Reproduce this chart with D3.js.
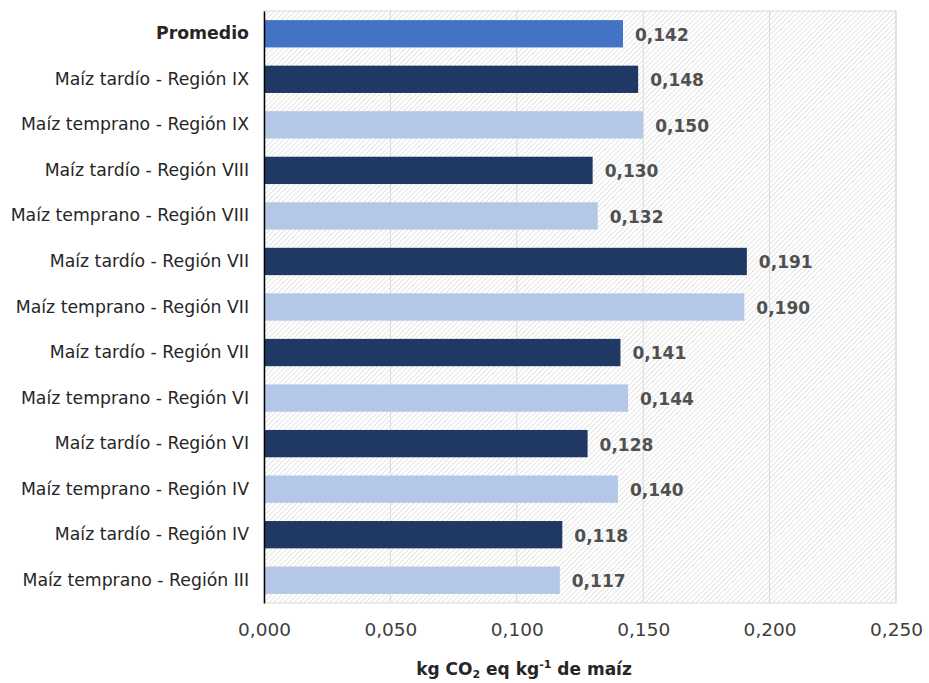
<!DOCTYPE html>
<html>
<head>
<meta charset="utf-8">
<script src="https://cdn.jsdelivr.net/npm/d3@7"></script>
<style>
  body { margin: 0; background: #fff; }
  text { font-family: "DejaVu Sans", Verdana, sans-serif; }
</style>
</head>
<body>
<div id="vis"></div>
<script>
const FRAME_WIDTH = 929;
const FRAME_HEIGHT = 683;
const MARGINS = {left: 264, right: 33, top: 11, bottom: 80};

// categories, top to bottom
const categories = [
  "Promedio",
  "Maíz tardío - Región IX",
  "Maíz temprano - Región IX",
  "Maíz tardío - Región VIII",
  "Maíz temprano - Región VIII",
  "Maíz tardío - Región VII",
  "Maíz temprano - Región VII",
  "Maíz tardío - Región VII",
  "Maíz temprano - Región VI",
  "Maíz tardío - Región VI",
  "Maíz temprano - Región IV",
  "Maíz tardío - Región IV",
  "Maíz temprano - Región III"
];
const values = [0.142, 0.148, 0.150, 0.130, 0.132, 0.191, 0.190, 0.141, 0.144, 0.128, 0.140, 0.118, 0.117];
// kind of bar: avg / tardio / temprano
const kinds = ["avg", "tardio", "temprano", "tardio", "temprano", "tardio", "temprano",
               "tardio", "temprano", "tardio", "temprano", "tardio", "temprano"];
const xTicks = [0, 0.05, 0.1, 0.15, 0.2, 0.25];

const COLORS = {avg: "#4472C4", tardio: "#203864", temprano: "#B4C7E7"};

const VIS_WIDTH = FRAME_WIDTH - MARGINS.left - MARGINS.right;
const VIS_HEIGHT = FRAME_HEIGHT - MARGINS.top - MARGINS.bottom;

const fmt = (d) => d3.format(".3f")(d).replace(".", ",");

const svg = d3.select("#vis")
  .append("svg")
    .attr("width", FRAME_WIDTH)
    .attr("height", FRAME_HEIGHT);

// hatch pattern for plot background
svg.append("defs")
  .append("pattern")
    .attr("id", "hatch")
    .attr("patternUnits", "userSpaceOnUse")
    .attr("width", 3.6)
    .attr("height", 3.6)
    .attr("patternTransform", "rotate(45)")
  .append("line")
    .attr("x1", 0).attr("y1", 0)
    .attr("x2", 0).attr("y2", 3.6)
    .attr("stroke", "#d6d6d6")
    .attr("stroke-width", 1.3);

const X_SCALE = d3.scaleLinear()
  .domain([0, 0.25])
  .range([0, VIS_WIDTH]);

const Y_SCALE = d3.scaleBand()
  .domain(d3.range(categories.length))
  .range([0, VIS_HEIGHT])
  .paddingInner(0.4)
  .paddingOuter(0.2);

const g = svg.append("g")
  .attr("transform", "translate(" + MARGINS.left + "," + MARGINS.top + ")");

g.append("rect")
  .attr("width", VIS_WIDTH)
  .attr("height", VIS_HEIGHT)
  .attr("fill", "url(#hatch)")
  .attr("stroke", "#d9d9d9");

// vertical gridlines
g.selectAll(".grid")
  .data(xTicks.slice(1))
  .enter()
  .append("line")
    .attr("x1", (d) => X_SCALE(d))
    .attr("x2", (d) => X_SCALE(d))
    .attr("y1", 0)
    .attr("y2", VIS_HEIGHT)
    .attr("stroke", "#d9d9d9")
    .attr("stroke-width", 1);

// bars
g.selectAll(".bar")
  .data(values)
  .enter()
  .append("rect")
    .attr("x", 0)
    .attr("y", (d, i) => Y_SCALE(i))
    .attr("width", (d) => X_SCALE(d))
    .attr("height", Y_SCALE.bandwidth())
    .attr("fill", (d, i) => COLORS[kinds[i]]);

// value labels
g.selectAll(".val")
  .data(values)
  .enter()
  .append("text")
    .attr("x", (d) => X_SCALE(d) + 12)
    .attr("y", (d, i) => Y_SCALE(i) + Y_SCALE.bandwidth() / 2 + 1)
    .attr("dy", "0.35em")
    .attr("font-size", "17px")
    .attr("font-weight", "bold")
    .attr("fill", "#505050")
    .text((d) => fmt(d));

// x axis
const xAxis = g.append("g")
  .attr("transform", "translate(0," + VIS_HEIGHT + ")")
  .call(d3.axisBottom(X_SCALE).tickValues(xTicks).tickFormat(fmt).tickSize(0).tickPadding(20));
xAxis.select(".domain").remove();
xAxis.selectAll("text")
  .attr("font-size", "18.5px")
  .attr("font-family", "DejaVu Sans, Verdana, sans-serif")
  .attr("fill", "#404040");

// y axis
const yAxis = g.append("g")
  .call(d3.axisLeft(Y_SCALE).tickFormat((i) => categories[i]).tickSize(0).tickPadding(15));
yAxis.select(".domain")
  .attr("stroke", "#000")
  .attr("stroke-width", 1.5);
yAxis.selectAll("text")
  .attr("font-size", "17.3px")
  .attr("font-family", "DejaVu Sans, Verdana, sans-serif")
  .attr("fill", "#262626")
  .attr("font-weight", (i) => i === 0 ? "bold" : "normal");

// axis title
const title = svg.append("text")
  .attr("x", MARGINS.left + VIS_WIDTH / 2 - 56)
  .attr("y", 675)
  .attr("text-anchor", "middle")
  .attr("font-size", "17px")
  .attr("font-weight", "bold")
  .attr("fill", "#262626");
title.append("tspan").text("kg CO");
title.append("tspan").attr("font-size", "11px").attr("dy", 3).text("2");
title.append("tspan").attr("dy", -3).text(" eq kg");
title.append("tspan").attr("font-size", "11px").attr("dy", -7).text("-1");
title.append("tspan").attr("dy", 7).text(" de maíz");
</script>
</body>
</html>
